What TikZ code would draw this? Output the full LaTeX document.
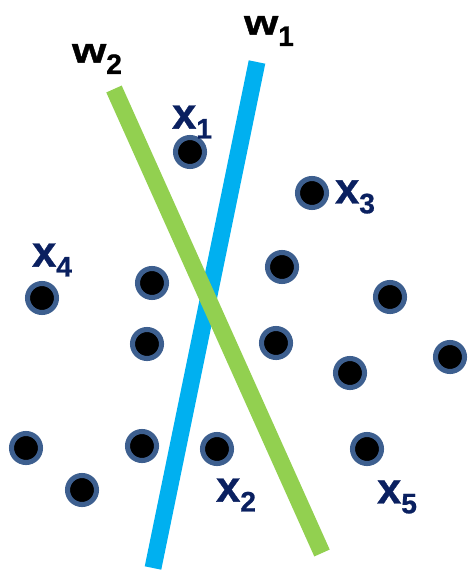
\documentclass[tikz,border=0pt]{standalone}
\usepackage{fontspec}
\setmainfont{Liberation Sans}[BoldFeatures={FakeBold=0.8}]
\newfontfamily\wfont{Liberation Sans}[BoldFeatures={FakeStretch=1.25,FakeBold=1.2}]
\definecolor{wblue}{HTML}{00B0F0}
\definecolor{wgreen}{HTML}{92D050}
\definecolor{ringblue}{HTML}{3D5F8F}
\definecolor{navy}{HTML}{0A2060}
% label with a lowered index
\newcommand{\idxlabel}[3]{\bfseries #1\raisebox{-#3}{\rmfamily\fontsize{20}{20}\selectfont\bfseries #2}}

\begin{document}
\begin{tikzpicture}[x=0.025cm,y=-0.025cm,
  pt/.style={circle,fill=black,draw=ringblue,line width=3.6pt,minimum size=0.725cm,inner sep=0pt},
  bar/.style={line width=12pt},
  wlbl/.style={font=\wfont\fontsize{25}{25}\selectfont,text=black,inner sep=0pt},
  xlbl/.style={font=\fontsize{31}{31}\selectfont,text=navy,inner sep=0pt}]
\useasboundingbox (0,0) rectangle (467,570);
% the two separating lines
\coordinate (w1top) at (257,62);
\coordinate (w1bot) at (153,568);
\coordinate (w2top) at (114,89);
\coordinate (w2bot) at (322,553);
\draw[bar,wblue] (w1top) -- (w1bot);
\draw[bar,wgreen] (w2top) -- (w2bot);
\node[wlbl] (w1lbl) at (269,31) {\idxlabel{w}{1}{8pt}};
\node[wlbl] (w2lbl) at (97,59) {\idxlabel{w}{2}{8pt}};
% data points
\node[pt] (x1) at (190,152) {};
\node[pt] (x3) at (312,193) {};
\node[pt] (x4) at (42,298) {};
\node[pt] (x2) at (217,449) {};
\node[pt] (x5) at (367,449) {};
\node[pt] (p1) at (152,283) {};
\node[pt] (p2) at (282,267) {};
\node[pt] (p3) at (390,297) {};
\node[pt] (p4) at (147,344) {};
\node[pt] (p5) at (276,343) {};
\node[pt] (p6) at (450,357) {};
\node[pt] (p7) at (350,373) {};
\node[pt] (p8) at (26,448) {};
\node[pt] (p9) at (142,446) {};
\node[pt] (p10) at (82,490) {};
% point labels
\node[xlbl] (x1lbl) at (192,122) {\idxlabel{x}{1}{7pt}};
\node[xlbl] (x3lbl) at (355,197) {\idxlabel{x}{3}{7pt}};
\node[xlbl] (x4lbl) at (52,260) {\idxlabel{x}{4}{7pt}};
\node[xlbl] (x2lbl) at (236,495) {\idxlabel{x}{2}{7pt}};
\node[xlbl] (x5lbl) at (397,497) {\idxlabel{x}{5}{7pt}};
\end{tikzpicture}
\end{document}
